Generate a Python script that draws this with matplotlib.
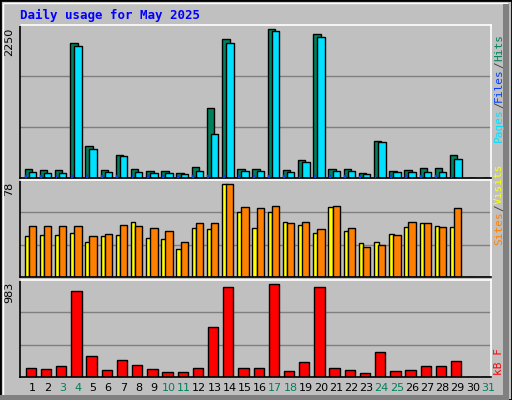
import matplotlib
matplotlib.use("Agg")
import matplotlib.pyplot as plt
from matplotlib.patches import Rectangle

days = list(range(1, 32))
weekend = [3, 4, 10, 11, 17, 18, 24, 25, 31]
hits = [129,114,114,1979,469,114,336,129,99,99,69,158,1032,2038,129,129,2186,114,262,2112,129,129,69,543,99,114,143,143,336,0,0]
files = [84,69,69,1935,424,84,321,84,69,69,54,99,646,1979,99,99,2157,84,232,2068,99,99,54,528,84,84,84,84,277,0,0]
pages = [40,40,40,40,40,40,40,40,40,40,30,40,40,40,40,40,40,40,45,40,40,40,30,40,40,40,40,40,40,0,0]
visits = [33.2,34.0,34.0,35.6,28.3,33.2,34.0,44.5,31.6,30.8,22.7,39.7,38.9,74.5,52.6,39.7,52.6,44.5,42.1,35.6,55.9,37.2,27.5,28.3,34.8,40.5,43.7,41.3,40.5,0,0]
sites = [41.3,41.3,41.3,41.3,33.2,34.8,42.1,41.3,39.7,37.2,28.3,43.7,43.7,74.5,55.9,55.1,56.7,43.7,44.5,38.9,56.7,39.7,24.3,25.9,34.0,44.5,43.7,40.5,55.1,0,0]
kbytes = [96,86,107,870,210,76,168,117,86,55,55,96,509,911,96,96,942,65,148,911,96,76,45,251,65,76,107,107,158,0,0]
max_hits, max_visits, max_kb = 2250, 78, 983

BG = "#c0c0c0"
fig = plt.figure(figsize=(5.12, 4.0), dpi=100, facecolor=BG)
fig.patches.append(Rectangle((0, 0), 1, 1, transform=fig.transFigure, fill=False, edgecolor="black", lw=2))
fig.patches.append(Rectangle((0.006, 0.008), 0.985, 0.985, transform=fig.transFigure, fill=False, edgecolor="white", lw=1))
fig.patches.append(Rectangle((0.0, 0.0), 0.994, 0.0125, transform=fig.transFigure, color="#808080", lw=0))
fig.patches.append(Rectangle((0.982, 0.0), 0.012, 0.99, transform=fig.transFigure, color="#808080", lw=0))

mono = "DejaVu Sans Mono"
fig.text(20/512, 1-15/400, "Daily usage for May 2025", color="#0000ff", fontsize=9, fontweight="bold",
         family=mono, va="center", ha="left")

L, W = 20/512, 471/512
axes_spec = [(1-178/400, 153/400), (1-277/400, 97/400), (1-377/400, 97/400)]
axs = []
for b, h in axes_spec:
    ax = fig.add_axes([L, b, W, h], facecolor=BG)
    ax.set_xlim(0, 31)
    ax.set_xticks([]); ax.set_yticks([])
    for s in ["left", "bottom"]:
        ax.spines[s].set_color("black")
    for s in ["right", "top"]:
        ax.spines[s].set_color("white")
    for s in ax.spines.values():
        s.set_linewidth(1.2)
    for f in (1/3, 2/3):
        ax.axhline(f, color="#808080", lw=1, zorder=0)
    ax.set_ylim(0, 1)
    axs.append(ax)

ek = dict(edgecolor="black", linewidth=1, align="edge", zorder=2)
x0 = [d - 1 for d in days]
a1, a2, a3 = axs
a1.bar([x + 0.3 for x in x0], [v / max_hits for v in hits], 0.49, color="#00805c", **ek)
a1.bar([x + 0.57 for x in x0], [v / max_hits for v in files], 0.49, color="#00e0ff", **ek)
a1.bar([x + 0.34 for x in x0], [v / max_hits for v in pages], 0.12, color="#0040ff", edgecolor="#0040ff", linewidth=0.3, align="edge", zorder=3)
a2.bar([x + 0.3 for x in x0], [v / max_visits for v in visits], 0.3, color="#ffff00", **ek)
a2.bar([x + 0.57 for x in x0], [v / max_visits for v in sites], 0.48, color="#ff8000", **ek)
a3.bar([x + 0.37 for x in x0], [v / max_kb for v in kbytes], 0.68, color="#ff0000", **ek)

for ax, lab in zip(axs, [str(max_hits), str(max_visits), str(max_kb)]):
    ax.text(-0.013, 0.985, lab, transform=ax.transAxes, rotation=90, ha="right", va="top",
            fontsize=8, family="DejaVu Sans")

for d in days:
    a3.text(d - 1 + 0.8, -0.11, str(d), transform=a3.get_xaxis_transform(),
            ha="center", va="center", fontsize=8,
            color="#00805c" if d in weekend else "black")

renderer = fig.canvas.get_renderer()

def side_label(ax, parts, y0_px):
    # parts bottom-to-top; y0_px = figure pixel y (from bottom)
    bb = ax.get_window_extent(renderer)
    x = bb.x1 + 3
    y = bb.y0 + y0_px
    for txt, col in parts:
        t = fig.text(x / 512, y / 400, txt, rotation=90, ha="left", va="bottom",
                     fontsize=8, family=mono, color=col)
        ext = t.get_window_extent(renderer)
        y += ext.height

side_label(a1, [("Pages", "#00e0ff"), ("/", "#404040"), ("Files", "#0040ff"), ("/", "#404040"), ("Hits", "#00805c")], 36)
side_label(a2, [("Sites", "#ff8000"), ("/", "#404040"), ("Visits", "#ffff00")], 32)
side_label(a3, [("kB F", "#ff0000")], 2)

fig.savefig("out.png", dpi=100, facecolor=BG)
